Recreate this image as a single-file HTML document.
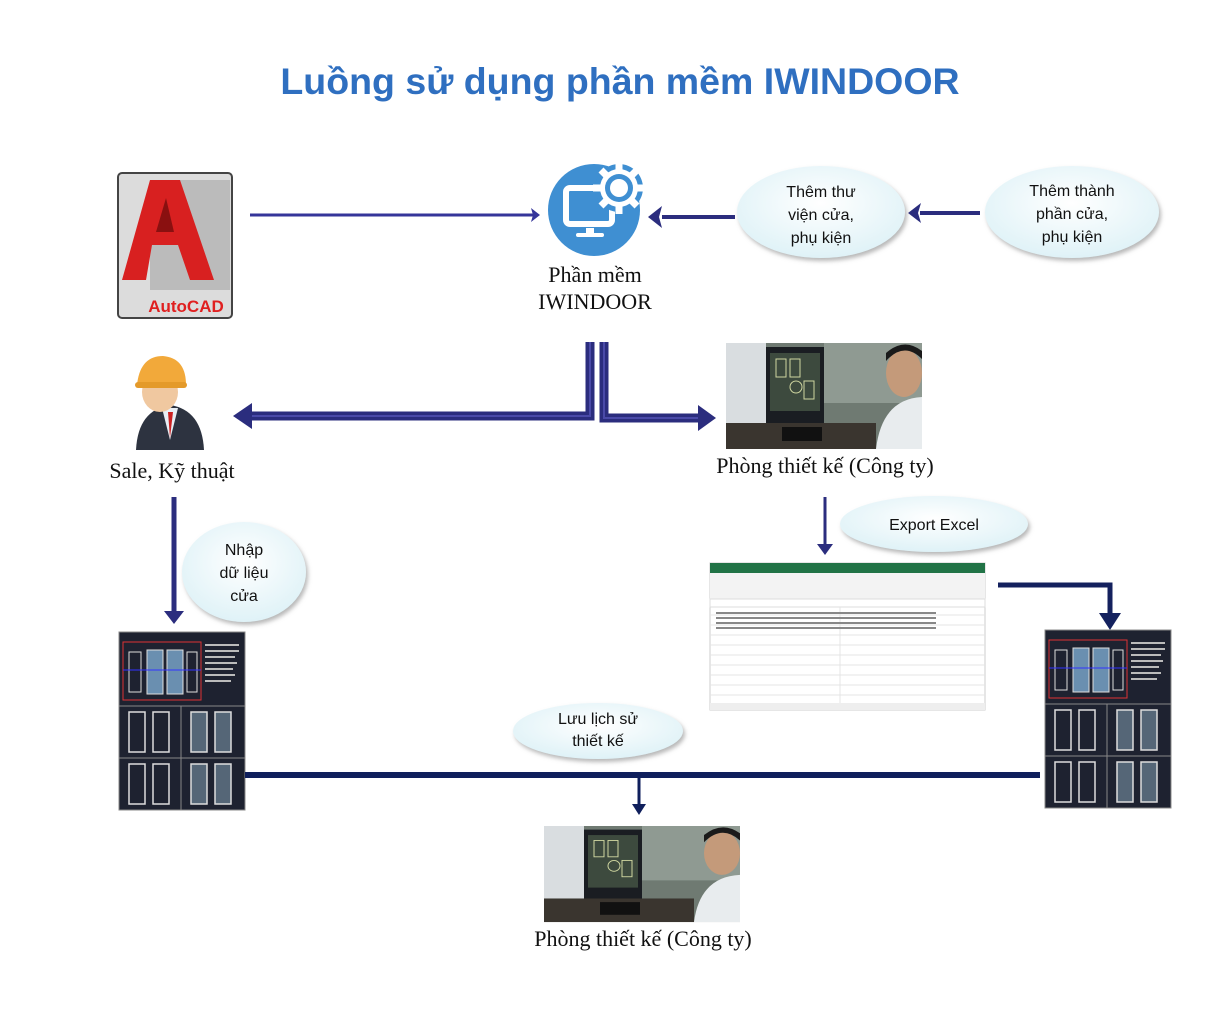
<!DOCTYPE html>
<html><head><meta charset="utf-8"><style>
body{margin:0;background:#fff}
svg{display:block}
.s{font-family:"Liberation Serif",serif;font-size:22px;fill:#111}
.b{font-family:"Liberation Sans","DejaVu Sans",sans-serif;font-size:16px;fill:#111}
</style></head><body>
<svg width="1228" height="1034" viewBox="0 0 1228 1034" xmlns="http://www.w3.org/2000/svg">
<defs>
<radialGradient id="bub" cx="50%" cy="40%" r="60%"><stop offset="0" stop-color="#ffffff"/><stop offset="1" stop-color="#dff2f7"/></radialGradient>
<filter id="sh" x="-20%" y="-20%" width="140%" height="150%"><feDropShadow dx="2" dy="3" stdDeviation="2" flood-color="#888" flood-opacity="0.6"/></filter>
<g id="dwg">
<rect x="0" y="0" width="126" height="178" fill="#1e2230" stroke="#888" stroke-width="1"/>
<rect x="4" y="10" width="78" height="58" fill="none" stroke="#d33" stroke-width="1"/>
<rect x="10" y="20" width="12" height="40" fill="none" stroke="#ddd"/>
<rect x="28" y="18" width="16" height="44" fill="#6a8fb0" stroke="#ddd"/>
<rect x="48" y="18" width="16" height="44" fill="#6a8fb0" stroke="#ddd"/>
<rect x="68" y="20" width="10" height="40" fill="none" stroke="#ddd"/>
<line x1="4" y1="38" x2="82" y2="38" stroke="#33f"/>
<g fill="#bbb"><rect x="86" y="12" width="34" height="2"/><rect x="86" y="18" width="34" height="2"/><rect x="86" y="24" width="30" height="2"/><rect x="86" y="30" width="32" height="2"/><rect x="86" y="36" width="28" height="2"/><rect x="86" y="42" width="30" height="2"/><rect x="86" y="48" width="26" height="2"/></g>
<line x1="0" y1="74" x2="126" y2="74" stroke="#888"/>
<line x1="0" y1="126" x2="126" y2="126" stroke="#888"/>
<line x1="62" y1="74" x2="62" y2="178" stroke="#888"/>
<g fill="none" stroke="#ddd" stroke-width="1.5">
<rect x="10" y="80" width="16" height="40"/><rect x="34" y="80" width="16" height="40"/><rect x="72" y="80" width="16" height="40" fill="#567"/><rect x="96" y="80" width="16" height="40" fill="#567"/>
<rect x="10" y="132" width="16" height="40"/><rect x="34" y="132" width="16" height="40"/><rect x="72" y="132" width="16" height="40" fill="#567"/><rect x="96" y="132" width="16" height="40" fill="#567"/>
</g>
</g>
<g id="photo">
<rect x="0" y="0" width="196" height="106" fill="#6f7a72"/>
<rect x="0" y="0" width="40" height="106" fill="#d9dde0"/>
<rect x="40" y="4" width="58" height="78" fill="#1a1d22"/>
<rect x="44" y="10" width="50" height="58" fill="#3d4a3e"/>
<g stroke="#cfd6a0" stroke-width="1" fill="none"><rect x="50" y="16" width="10" height="18"/><rect x="64" y="16" width="10" height="18"/><circle cx="70" cy="44" r="6"/><rect x="78" y="38" width="10" height="18"/></g>
<rect x="98" y="0" width="98" height="60" fill="#8f9a92"/>
<rect x="0" y="80" width="150" height="26" fill="#3a352f"/>
<rect x="56" y="84" width="40" height="14" fill="#111"/>
<ellipse cx="178" cy="30" rx="18" ry="24" fill="#c49a7a"/>
<path d="M160 18 Q178 -2 196 16 L196 8 Q178 -6 160 10Z" fill="#1a1a1a"/>
<path d="M150 106 Q156 56 196 54 L196 106Z" fill="#e8ecee"/>
</g>
</defs>

<text x="620" y="94" text-anchor="middle" font-family="Liberation Sans,sans-serif" font-weight="bold" font-size="37.5" fill="#2f6fc0">Luồng sử dụng phần mềm IWINDOOR</text>

<!-- AutoCAD -->
<rect x="118" y="173" width="114" height="145" rx="4" fill="#dcdcdc" stroke="#444" stroke-width="2"/>
<rect x="150" y="180" width="80" height="110" fill="#9a9a9a" opacity="0.5"/>
<path d="M122 280 L150 180 L180 180 L214 280 L190 280 L178 245 L152 245 L146 280Z" fill="#d82020"/>
<path d="M156 232 L166 198 L174 232Z" fill="#8a1010"/>
<text x="186" y="312" text-anchor="middle" font-family="Liberation Sans,sans-serif" font-weight="bold" font-size="17" fill="#e02020">AutoCAD</text>

<line x1="250" y1="215" x2="533" y2="215" stroke="#35359a" stroke-width="3"/>
<polygon points="540,215 531,208 533,215 531,222" fill="#35359a"/>

<!-- IWINDOOR icon -->
<circle cx="594" cy="210" r="46" fill="#3f8fd2"/>
<rect x="566" y="188" width="46" height="36" rx="4" fill="none" stroke="#fff" stroke-width="6"/>
<rect x="586" y="228" width="8" height="6" fill="#fff"/><rect x="576" y="233" width="28" height="4" rx="2" fill="#fff"/>
<circle cx="619" cy="188" r="24" fill="#3f8fd2"/>
<g stroke="#fff" stroke-width="7"><line x1="619" y1="162" x2="619" y2="214"/><line x1="593" y1="188" x2="645" y2="188"/><line x1="601" y1="170" x2="637" y2="206"/><line x1="637" y1="170" x2="601" y2="206"/></g>
<circle cx="619" cy="188" r="19" fill="#fff"/>
<circle cx="619" cy="188" r="14" fill="#3f8fd2"/>
<circle cx="619" cy="188" r="9" fill="#fff"/>
<text x="595" y="282" text-anchor="middle" class="s">Phần mềm</text>
<text x="595" y="309" text-anchor="middle" class="s">IWINDOOR</text>

<line x1="735" y1="217" x2="662" y2="217" stroke="#2b2d7e" stroke-width="4"/>
<polygon points="648,217 662,206 659,217 662,228" fill="#2b2d7e"/>
<line x1="980" y1="213" x2="920" y2="213" stroke="#2b2d7e" stroke-width="4"/>
<polygon points="908,213 921,203 918,213 921,223" fill="#2b2d7e"/>

<ellipse cx="821" cy="212" rx="84" ry="46" fill="url(#bub)" filter="url(#sh)"/>
<text x="821" y="197" text-anchor="middle" class="b">Thêm thư</text>
<text x="821" y="220" text-anchor="middle" class="b">viện cửa,</text>
<text x="821" y="243" text-anchor="middle" class="b">phụ kiện</text>
<ellipse cx="1072" cy="212" rx="87" ry="46" fill="url(#bub)" filter="url(#sh)"/>
<text x="1072" y="196" text-anchor="middle" class="b">Thêm thành</text>
<text x="1072" y="219" text-anchor="middle" class="b">phần cửa,</text>
<text x="1072" y="242" text-anchor="middle" class="b">phụ kiện</text>

<path d="M590 342 V416 H250" fill="none" stroke="#2b2d7e" stroke-width="9"/>
<path d="M590 342 V416 H250" fill="none" stroke="#4a4aa8" stroke-width="2"/>
<polygon points="233,416 252,403 252,429" fill="#2b2d7e"/>
<path d="M604 342 V418 H700" fill="none" stroke="#2b2d7e" stroke-width="9"/>
<path d="M604 342 V418 H700" fill="none" stroke="#4a4aa8" stroke-width="2"/>
<polygon points="716,418 698,405 698,431" fill="#2b2d7e"/>

<!-- person -->
<path d="M136 450 Q138 410 170 405 Q202 410 204 450Z" fill="#2d3340"/>
<path d="M162 408 L170 440 L178 408Z" fill="#e8eef4"/><path d="M168 412 L170 438 L173 412Z" fill="#c22"/>
<ellipse cx="160" cy="392" rx="18" ry="20" fill="#f0c8a0"/>
<path d="M137 385 Q140 356 163 356 Q186 358 186 385Z" fill="#f2a93a"/>
<rect x="135" y="382" width="52" height="6" rx="3" fill="#e49a2a"/>
<text x="172" y="478" text-anchor="middle" class="s">Sale, Kỹ thuật</text>

<use href="#photo" x="726" y="343"/>
<text x="825" y="473" text-anchor="middle" class="s">Phòng thiết kế (Công ty)</text>

<line x1="825" y1="497" x2="825" y2="545" stroke="#2b2d7e" stroke-width="3"/>
<polygon points="825,555 817,544 833,544" fill="#2b2d7e"/>
<ellipse cx="934" cy="524" rx="94" ry="28" fill="url(#bub)" filter="url(#sh)"/>
<text x="934" y="530" text-anchor="middle" class="b">Export Excel</text>

<!-- excel -->
<rect x="710" y="563" width="275" height="147" fill="#fff" stroke="#ccc"/>
<rect x="710" y="563" width="275" height="10" fill="#217346"/>
<rect x="710" y="573" width="275" height="26" fill="#f3f3f3"/>
<rect x="710" y="599" width="275" height="8" fill="#fff" stroke="#ddd"/>
<g stroke="#e4e4e4" stroke-width="1">
<line x1="710" y1="615" x2="985" y2="615"/><line x1="710" y1="625" x2="985" y2="625"/><line x1="710" y1="635" x2="985" y2="635"/><line x1="710" y1="645" x2="985" y2="645"/><line x1="710" y1="655" x2="985" y2="655"/><line x1="710" y1="665" x2="985" y2="665"/><line x1="710" y1="675" x2="985" y2="675"/><line x1="710" y1="685" x2="985" y2="685"/><line x1="710" y1="695" x2="985" y2="695"/>
<line x1="840" y1="607" x2="840" y2="703"/>
</g>
<g fill="#888"><rect x="716" y="612" width="220" height="2"/><rect x="716" y="617" width="220" height="2"/><rect x="716" y="622" width="220" height="2"/><rect x="716" y="627" width="220" height="2"/></g>
<rect x="710" y="703" width="275" height="7" fill="#eee"/>

<path d="M998 585 H1110 V615" fill="none" stroke="#14215e" stroke-width="5"/>
<polygon points="1110,630 1099,613 1121,613" fill="#14215e"/>
<use href="#dwg" x="1045" y="630"/>

<line x1="174" y1="497" x2="174" y2="612" stroke="#2b2d7e" stroke-width="5"/>
<polygon points="174,624 164,611 184,611" fill="#2b2d7e"/>
<ellipse cx="244" cy="572" rx="62" ry="50" fill="url(#bub)" filter="url(#sh)"/>
<text x="244" y="555" text-anchor="middle" class="b">Nhập</text>
<text x="244" y="578" text-anchor="middle" class="b">dữ liệu</text>
<text x="244" y="601" text-anchor="middle" class="b">cửa</text>
<use href="#dwg" x="119" y="632"/>

<line x1="245" y1="775" x2="1040" y2="775" stroke="#0f1f5c" stroke-width="6"/>
<line x1="639" y1="775" x2="639" y2="805" stroke="#0f1f5c" stroke-width="3"/>
<polygon points="639,815 632,804 646,804" fill="#0f1f5c"/>
<ellipse cx="598" cy="731" rx="85" ry="28" fill="url(#bub)" filter="url(#sh)"/>
<text x="598" y="724" text-anchor="middle" class="b">Lưu lịch sử</text>
<text x="598" y="746" text-anchor="middle" class="b">thiết kế</text>

<g transform="translate(544,826) scale(1.0,0.906)"><use href="#photo"/></g>
<text x="643" y="946" text-anchor="middle" class="s">Phòng thiết kế (Công ty)</text>
</svg>
</body></html>
